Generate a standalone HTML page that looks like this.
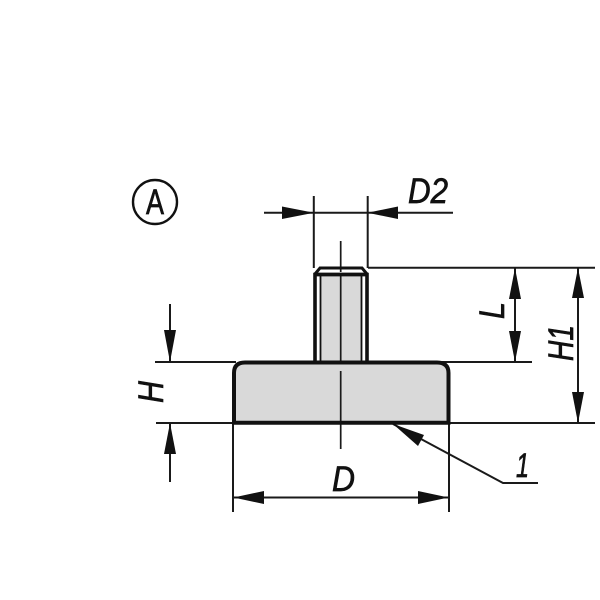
<!DOCTYPE html>
<html><head><meta charset="utf-8"><style>html,body{margin:0;padding:0;background:#fff}svg{display:block}text{font-family:"Liberation Sans",sans-serif;fill:#111;stroke:#111;stroke-width:.7}</style></head><body>
<svg width="600" height="600" viewBox="0 0 600 600" xmlns="http://www.w3.org/2000/svg">
<rect width="600" height="600" fill="#fff"/>
<!-- fills -->
<rect x="320" y="276" width="42" height="86" fill="#d9d9d9"/>
<path d="M234 422V373Q234 363 244 363H438Q448 363 448 373V422Z" fill="#d9d9d9"/>
<!-- thin lines -->
<g stroke="#1a1a1a" stroke-width="2" fill="none">
<path d="M264 212.800H453M313.800 196V268M367.700 196V268"/>
<path d="M368 267.800H595M440 362H532M155 362H236M156 423H234M449 423H595"/>
<path d="M170 304V362M170 423V482M515 268V362M578 268V423"/>
<path d="M233 423V512M449 423V512M233 497.500H449"/>
<path d="M393 424L503 483H538"/>
<path d="M340.700 241V272M340.700 276V362M340.700 371V449" stroke-width="1.700"/>
</g>
<!-- stud -->
<g stroke="#111" fill="none">
<path d="M315 362V274.500H367V362" stroke-width="3.600"/>
<path d="M315 274L320 268H362L367 274" stroke-width="3"/>
<path d="M314 274.500H368" stroke-width="3.400"/>
<path d="M320.500 275V362M361.500 275V362" stroke-width="1.800"/>
</g>
<!-- base -->
<path d="M234 423V373Q234 362.500 245 362.500H437Q448.500 362.500 448.500 373V423" stroke="#111" stroke-width="4" fill="none"/>
<path d="M232 422.800H450.500" stroke="#111" stroke-width="4" fill="none"/>
<!-- arrowheads -->
<g fill="#111">
<path d="M314 212.800L282 206.500V219Z"/>
<path d="M367.500 212.800L398 206.500V219Z"/>
<path d="M170 362L164 330H176Z"/>
<path d="M170 423L164 454H176Z"/>
<path d="M515 268L509 299H521Z"/>
<path d="M515 362L509 331H521Z"/>
<path d="M578 268L572 298H584Z"/>
<path d="M578 423L572 392H584Z"/>
<path d="M233.500 497.500L264 491V504Z"/>
<path d="M448.500 497.500L418 491V504Z"/>
<path d="M393 424L424 435L418 446Z"/>
</g>
<!-- callout -->
<circle cx="155" cy="202" r="22" fill="none" stroke="#111" stroke-width="2.400"/>
<text x="146" y="214" font-size="35" textLength="18" lengthAdjust="spacingAndGlyphs">A</text>
<!-- labels -->
<g font-style="italic" font-size="35">
<text x="408" y="203" textLength="40" lengthAdjust="spacingAndGlyphs">D2</text>
<text x="332" y="491" textLength="23" lengthAdjust="spacingAndGlyphs">D</text>
<text x="516" y="477" font-size="34" textLength="13" lengthAdjust="spacingAndGlyphs">1</text>
<text transform="translate(163 403) rotate(-90)" textLength="22" lengthAdjust="spacingAndGlyphs">H</text>
<text transform="translate(504 319) rotate(-90)" textLength="17" lengthAdjust="spacingAndGlyphs">L</text>
<text transform="translate(573 361) rotate(-90)" textLength="36" lengthAdjust="spacingAndGlyphs">H1</text>
</g>
</svg>
</body></html>
